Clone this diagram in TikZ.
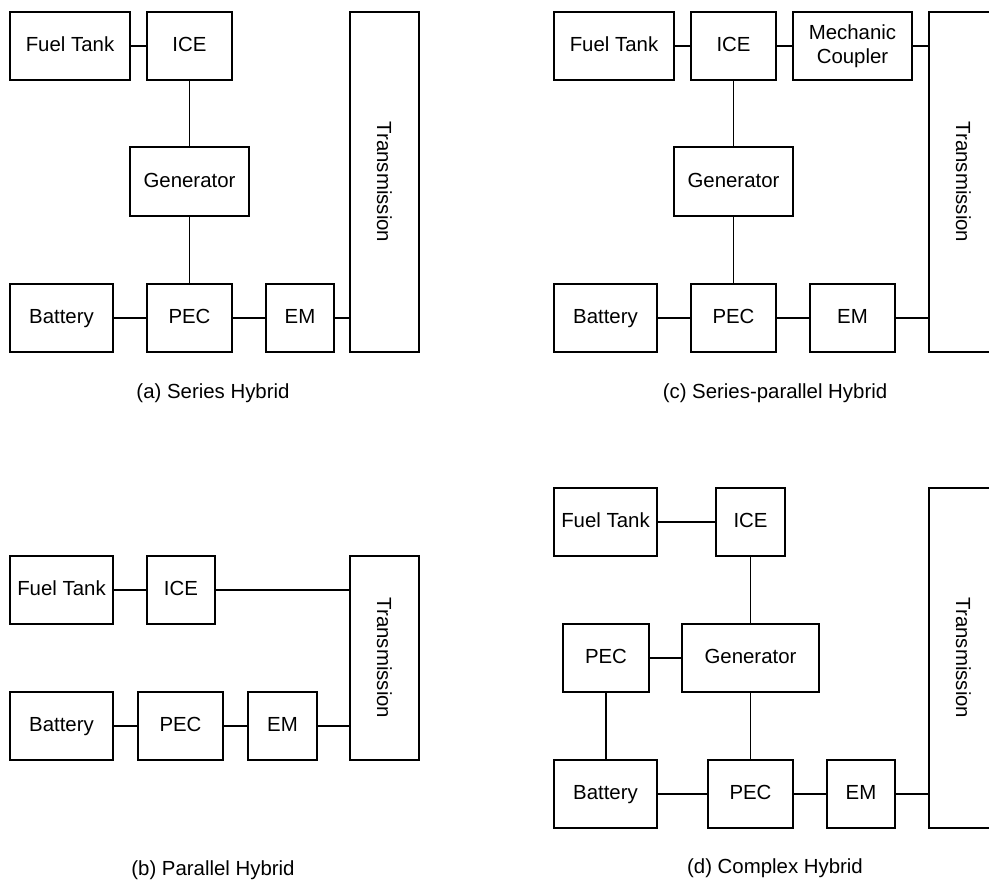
\documentclass[tikz,border=0pt]{standalone}
\usepackage{fontspec}
\setmainfont{Liberation Sans}
\usepackage{graphicx}
\tikzset{
  box/.style={draw=black, line width=1.6pt, inner sep=0pt, outer sep=0pt, align=center,
    font=\fontsize{20.4}{23.5}\selectfont, text height=14.6pt, text depth=3pt},
  twoline/.style={text height={}, text depth={}},
  conn/.style={draw=black, line width=1.6pt},
  captxt/.style={font=\fontsize{20.4}{23.5}\selectfont, inner sep=0pt}
}
\newcommand\bx[7][]{\node[box,#1, minimum width={#5-#3}, minimum height={#6-#4}] (#2) at ({(#3+#5)/2},{(#4+#6)/2}) {#7};}
\begin{document}
\begin{tikzpicture}[x=1pt,y=-1pt]
\useasboundingbox (0,0) rectangle (989,882);
% (a) Series Hybrid
\bx{aft}{10}{12}{130}{80}{Fuel Tank}
\bx{aice}{147}{12}{232}{80}{ICE}
\bx{agen}{130}{147}{249}{216}{Generator}
\bx{abat}{10}{284}{113}{352}{Battery}
\bx{apec}{147}{284}{232}{352}{PEC}
\bx{aem}{266}{284}{334}{352}{EM}
\bx[twoline]{atr}{350}{12}{419}{352}{\rotatebox{-90}{Transmission}}
\draw[conn] (aft.east) -- (aice.west);
\draw[conn] (aice.south) -- (agen.north);
\draw[conn] (agen.south) -- (apec.north);
\draw[conn] (abat.east) -- (apec.west);
\draw[conn] (apec.east) -- (aem.west);
\draw[conn] (aem.east) -- (aem.east -| atr.west);
\node[captxt] (acap) at (213,393) {(a) Series Hybrid};
% (c) Series-parallel Hybrid
\bx{cft}{554}{12}{674}{80}{Fuel Tank}
\bx{cice}{691}{12}{776}{80}{ICE}
\bx[twoline]{cmc}{793}{12}{912}{80}{Mechanic\\Coupler}
\bx{cgen}{674}{147}{793}{216}{Generator}
\bx{cbat}{554}{284}{657}{352}{Battery}
\bx{cpec}{691}{284}{776}{352}{PEC}
\bx{cem}{810}{284}{895}{352}{EM}
\bx[twoline]{ctr}{929}{12}{998}{352}{\rotatebox{-90}{Transmission}}
\draw[conn] (cft.east) -- (cice.west);
\draw[conn] (cice.east) -- (cmc.west);
\draw[conn] (cmc.east) -- (cmc.east -| ctr.west);
\draw[conn] (cice.south) -- (cgen.north);
\draw[conn] (cgen.south) -- (cpec.north);
\draw[conn] (cbat.east) -- (cpec.west);
\draw[conn] (cpec.east) -- (cem.west);
\draw[conn] (cem.east) -- (cem.east -| ctr.west);
\node[captxt] (ccap) at (775,393) {(c) Series-parallel Hybrid};
% (b) Parallel Hybrid
\bx{bft}{10}{556}{113}{624}{Fuel Tank}
\bx{bice}{147}{556}{215}{624}{ICE}
\bx{bbat}{10}{692}{113}{760}{Battery}
\bx{bpec}{138}{692}{223}{760}{PEC}
\bx{bem}{248}{692}{317}{760}{EM}
\bx[twoline]{btr}{350}{556}{419}{760}{\rotatebox{-90}{Transmission}}
\draw[conn] (bft.east) -- (bice.west);
\draw[conn] (bice.east) -- (bice.east -| btr.west);
\draw[conn] (bbat.east) -- (bpec.west);
\draw[conn] (bpec.east) -- (bem.west);
\draw[conn] (bem.east) -- (bem.east -| btr.west);
\node[captxt] (bcap) at (213,870) {(b) Parallel Hybrid};
% (d) Complex Hybrid
\bx{dft}{554}{488}{657}{556}{Fuel Tank}
\bx{dice}{716}{488}{785}{556}{ICE}
\bx{dpeca}{563}{624}{649}{692}{PEC}
\bx{dgen}{682}{624}{819}{692}{Generator}
\bx{dbat}{554}{760}{657}{828}{Battery}
\bx{dpecb}{708}{760}{793}{828}{PEC}
\bx{dem}{827}{760}{895}{828}{EM}
\bx[twoline]{dtr}{929}{488}{998}{828}{\rotatebox{-90}{Transmission}}
\draw[conn] (dft.east) -- (dice.west);
\draw[conn] (dice.south) -- (dgen.north);
\draw[conn] (dpeca.east) -- (dgen.west);
\draw[conn] (dpeca.south) -- (dpeca.south |- dbat.north);
\draw[conn] (dgen.south) -- (dpecb.north);
\draw[conn] (dbat.east) -- (dpecb.west);
\draw[conn] (dpecb.east) -- (dem.west);
\draw[conn] (dem.east) -- (dem.east -| dtr.west);
\node[captxt] (dcap) at (775,868) {(d) Complex Hybrid};
\end{tikzpicture}
\end{document}
